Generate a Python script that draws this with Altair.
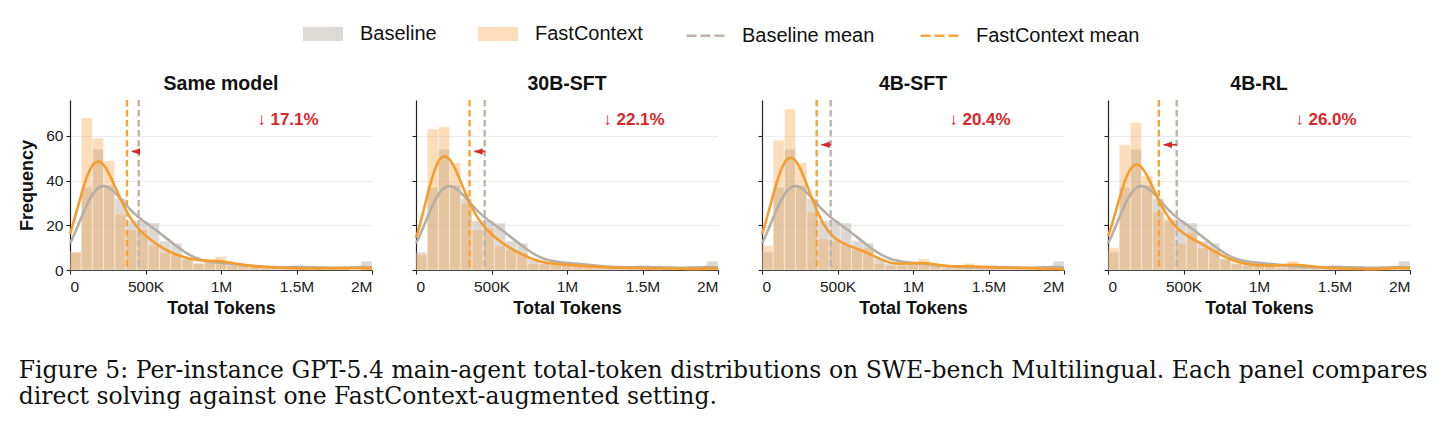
import altair as alt
import numpy as np
import pandas as pd

# ---- data -----------------------------------------------------------------
N_BINS = 27
X_MAX = 2_000_000
BIN_WIDTH = X_MAX / N_BINS

PANELS = ["Same model", "30B-SFT", "4B-SFT", "4B-RL"]
SERIES = ["Baseline", "FastContext"]
MEAN_SERIES = ["Baseline mean", "FastContext mean"]

# per-instance counts per token bin (shared baseline, one FastContext run per panel)
BASELINE_COUNTS = [8, 37, 54, 38, 32, 22, 22, 21, 13, 12, 5, 3, 4, 3, 3, 2, 2, 1, 1, 1, 2, 1, 1, 1, 1, 0, 4]

FASTCONTEXT_COUNTS = [
    [8, 68, 59, 49, 25, 18, 18, 11, 8, 7, 5, 3, 4, 6, 2, 2, 2, 1, 1, 1, 1, 0, 1, 1, 1, 0, 2],
    [7, 63, 64, 48, 30, 18, 19, 11, 9, 8, 3, 3, 3, 2, 2, 2, 1, 1, 1, 1, 1, 0, 1, 1, 0, 0, 2],
    [11, 58, 72, 48, 26, 14, 13, 11, 9, 10, 3, 2, 2, 3, 5, 2, 1, 1, 3, 1, 1, 1, 1, 1, 1, 0, 1],
    [10, 56, 66, 42, 26, 23, 12, 17, 10, 9, 5, 3, 2, 2, 2, 1, 4, 2, 1, 1, 1, 0, 1, 0, 0, 1, 2],
]

BASELINE_MEAN = 455_000
FASTCONTEXT_MEANS = [377_200, 354_400, 362_200, 336_700]

# ---- annotation placement --------------------------------------------------
ARROW_Y = [53, 53, 56, 56]
ARROW_GAP = 32_000
LABEL_X = 1_240_000
LABEL_Y = 67

# ---- styling ---------------------------------------------------------------
FONT = "Liberation Sans"
BAR_COLORS = ["#9e958a", "#f7a040"]
LINE_COLORS = ["#b5afa7", "#f59d2f"]
MEAN_COLORS = ["#bcb4aa", "#f8a43c"]
RED = "#d9262c"
PLOT_W, PLOT_H = 302, 170
BW_ADJUST = 0.9

bin_starts = [i * BIN_WIDTH for i in range(N_BINS)]
bin_ends = [s + BIN_WIDTH for s in bin_starts]
centers = np.array(bin_starts) + BIN_WIDTH / 2
grid = np.linspace(0, X_MAX, 241)


def kde_counts(counts):
    """Gaussian KDE (Scott bandwidth) of the binned sample, scaled to bin counts."""
    w = np.asarray(counts, dtype=float)
    n = w.sum()
    mu = (w * centers).sum() / n
    sd = np.sqrt((w * (centers - mu) ** 2).sum() / n)
    bw = BW_ADJUST * sd * n ** (-0.2)
    z = (grid[None, :] - centers[:, None]) / bw
    dens = (w[:, None] * np.exp(-0.5 * z * z)).sum(axis=0) / (n * bw * np.sqrt(2 * np.pi))
    return dens * n * BIN_WIDTH


x_scale = alt.Scale(domain=[0, X_MAX], nice=False)
y_scale = alt.Scale(domain=[0, 76], nice=False)
fill_scale = alt.Scale(domain=SERIES, range=BAR_COLORS)
line_scale = alt.Scale(domain=SERIES, range=LINE_COLORS)
mean_scale = alt.Scale(domain=MEAN_SERIES, range=MEAN_COLORS)

x_label_expr = (
    "datum.value == 0 ? '0' : datum.value < 1000000 ? "
    "format(datum.value / 1000, 'd') + 'K' : format(datum.value / 1000000, '~g') + 'M'"
)

fill_legend = alt.Legend(
    orient="none", legendX=233, legendY=-86, direction="horizontal", title=None,
    symbolType="M-1,-0.35L1,-0.35L1,0.35L-1,0.35Z", symbolSize=1600,
    symbolOpacity=0.35, symbolStrokeWidth=0, labelLimit=300,
    labelFont=FONT, labelFontSize=20, labelOffset=17, columnPadding=41, labelColor="#111111",
)
stroke_legend = alt.Legend(
    orient="none", legendX=615, legendY=-86, direction="horizontal", title=None,
    symbolType="stroke", symbolSize=1600, symbolDash=[10, 4], symbolStrokeWidth=2.6,
    labelLimit=300,
    labelFont=FONT, labelFontSize=20, labelOffset=14, columnPadding=40, labelColor="#111111",
)


def make_panel(idx):
    fc_counts = FASTCONTEXT_COUNTS[idx]
    fc_mean = FASTCONTEXT_MEANS[idx]
    first = idx == 0

    hist = pd.DataFrame({
        "series": ["Baseline"] * N_BINS + ["FastContext"] * N_BINS,
        "start": bin_starts * 2,
        "end": bin_ends * 2,
        "count": BASELINE_COUNTS + fc_counts,
    })
    kde = pd.DataFrame({
        "x": np.concatenate([grid, grid]),
        "y": np.concatenate([kde_counts(BASELINE_COUNTS), kde_counts(fc_counts)]),
        "series": ["Baseline"] * len(grid) + ["FastContext"] * len(grid),
    })
    means = pd.DataFrame({"series": MEAN_SERIES, "value": [BASELINE_MEAN, fc_mean]})
    pct = (1 - fc_mean / BASELINE_MEAN) * 100
    note = pd.DataFrame({
        "tip": [fc_mean + ARROW_GAP], "tail": [BASELINE_MEAN], "ay": [ARROW_Y[idx]],
        "lx": [LABEL_X], "ly": [LABEL_Y], "label": [f"↓ {pct:.1f}%"],
    })

    y_axis = alt.Axis(
        values=[0, 20, 40, 60], grid=True, labels=first,
        title="Frequency" if first else None,
    )
    x_axis = alt.Axis(values=[0, 500_000, 1_000_000, 1_500_000, 2_000_000],
                      labelExpr=x_label_expr, grid=False, title="Total Tokens")

    def X(field):
        return alt.X(field, scale=x_scale, axis=x_axis)

    def Y(field):
        return alt.Y(field, scale=y_scale, axis=y_axis)

    bars = alt.Chart(hist).mark_bar(opacity=0.35, stroke="white", strokeWidth=0.5).encode(
        x=X("start:Q"),
        x2="end:Q",
        y=alt.Y("count:Q", scale=y_scale, axis=y_axis, stack=None),
        y2=alt.datum(0),
        fill=alt.Fill("series:N", scale=fill_scale, legend=fill_legend),
    )
    mean_rules = alt.Chart(means).mark_rule(strokeDash=[6.5, 3.5], strokeWidth=2.4).encode(
        x=X("value:Q"),
        stroke=alt.Stroke("series:N", scale=mean_scale, legend=stroke_legend),
    )
    curves = alt.Chart(kde).mark_line(strokeWidth=2.6).encode(
        x=X("x:Q"),
        y=Y("y:Q"),
        color=alt.Color("series:N", scale=line_scale, legend=None),
        order=alt.Order("x:Q"),
    )
    shaft = alt.Chart(note).mark_rule(color=RED, strokeWidth=1.6).encode(
        x=X("tip:Q"),
        x2="tail:Q",
        y=Y("ay:Q"),
    )
    head = alt.Chart(note).mark_point(
        shape="M-1,0L1,-0.75L1,0.75Z", filled=True, size=72, color=RED, opacity=1, xOffset=4,
    ).encode(
        x=X("tip:Q"),
        y=Y("ay:Q"),
    )
    label = alt.Chart(note).mark_text(
        align="left", baseline="middle", font=FONT, fontSize=17, fontWeight="bold", color=RED,
    ).encode(
        x=X("lx:Q"),
        y=Y("ly:Q"),
        text="label:N",
    )

    return alt.layer(bars, mean_rules, curves, shaft, head, label).properties(
        width=PLOT_W, height=PLOT_H,
        title=alt.TitleParams(PANELS[idx], font=FONT, fontSize=19.5, fontWeight="bold",
                              color="#111111", offset=4),
    )


chart = alt.hconcat(*[make_panel(i) for i in range(4)], spacing=32).properties(
    title=alt.TitleParams(
        ["Figure 5: Per-instance GPT-5.4 main-agent total-token distributions on SWE-bench Multilingual. Each panel compares",
         "direct solving against one FastContext-augmented setting."],
        orient="bottom", anchor="start", font="DejaVu Serif", fontSize=23.5, fontWeight="normal",
        color="#111111", lineHeight=26, offset=41,
    ),
    padding={"left": 18, "top": 14, "right": 5, "bottom": 5},
).configure_view(stroke=None).configure_axis(
    domainColor="#222222", domainWidth=1.2, tickColor="#222222", tickSize=4, tickWidth=1.1,
    labelFont=FONT, labelFontSize=15.5, labelColor="#222222",
    titleFont=FONT, titleFontSize=18, titleFontWeight="bold", titleColor="#111111",
    gridColor="#ececec", gridWidth=1,
).configure_axisX(labelPadding=5, titlePadding=5).configure_axisY(labelPadding=3, titlePadding=9)

chart.save("out.html", embed_options={"renderer": "svg", "actions": False})
